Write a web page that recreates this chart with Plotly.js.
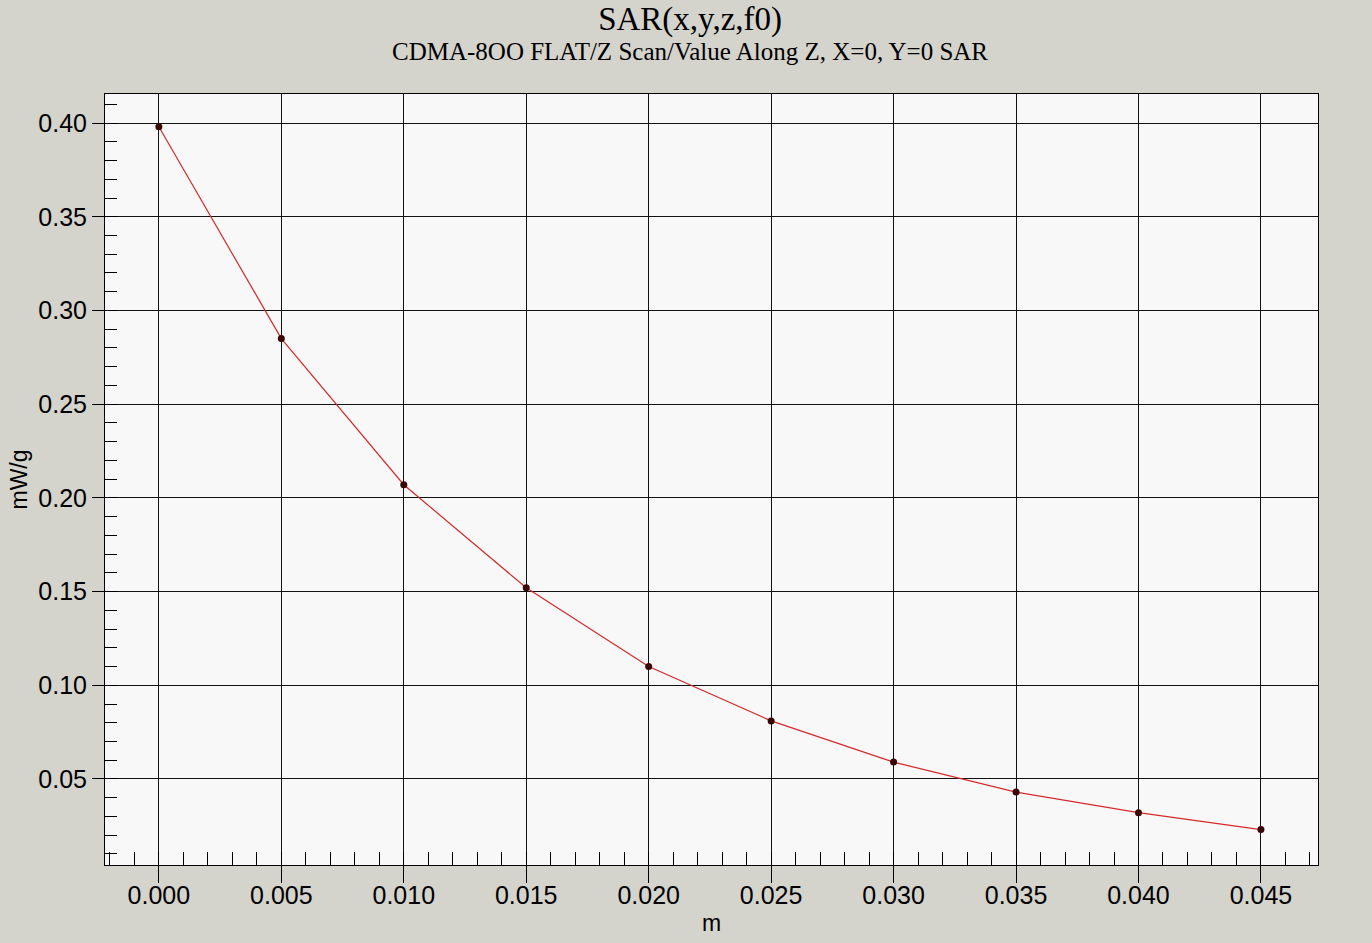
<!DOCTYPE html>
<html>
<head>
<meta charset="utf-8">
<script src="https://cdn.plot.ly/plotly-3.0.1.min.js"></script>
<style>
  html, body { margin: 0; padding: 0; background: #d4d3cc; }
  #chart { width: 1372px; height: 943px; }
</style>
</head>
<body>
<div id="chart"></div>
<script>
// Depth along Z (m) and SAR value (mW/g) at X=0, Y=0
const depth = [0.000, 0.005, 0.010, 0.015, 0.020, 0.025, 0.030, 0.035, 0.040, 0.045];
const sar = [0.398, 0.285, 0.207, 0.152, 0.110, 0.081, 0.059, 0.043, 0.032, 0.023];

const titleText = 'SAR(x,y,z,f0)';
const subtitleText = 'CDMA-8OO FLAT/Z Scan/Value Along Z, X=0, Y=0 SAR';
const xLabel = 'm';
const yLabel = 'mW/g';

const trace = {
  x: depth,
  y: sar,
  type: 'scatter',
  mode: 'lines+markers',
  line: { color: '#d42a2a', width: 1.2 },
  marker: { color: '#3a0505', size: 7 },
  hoverinfo: 'x+y'
};

const serif = 'Liberation Serif, Times New Roman, serif';
const sans = 'Liberation Sans, Arial, sans-serif';

const layout = {
  width: 1372,
  height: 943,
  paper_bgcolor: '#d4d3cc',
  plot_bgcolor: '#f8f8f8',
  margin: { l: 105, r: 54, t: 94, b: 78 },
  showlegend: false,
  title: {
    text: titleText,
    font: { family: serif, size: 33, color: '#000' },
    xref: 'container', x: 0.503,
    yref: 'container', y: 1 - 18 / 943, yanchor: 'middle'
  },
  annotations: [{
    text: subtitleText,
    xref: 'paper', x: 0.482, xanchor: 'center',
    yref: 'paper', y: 1 + 42 / 771, yanchor: 'middle',
    showarrow: false,
    font: { family: serif, size: 25, color: '#000' }
  }],
  xaxis: {
    range: [-0.0022, 0.04733],
    dtick: 0.005, tick0: 0,
    tickformat: '.3f',
    ticks: 'outside', ticklen: 17, tickwidth: 1, tickcolor: '#000',
    ticklabelstandoff: -9,
    showline: true, linecolor: '#000', linewidth: 1, mirror: true,
    showgrid: true, gridcolor: '#111', gridwidth: 1,
    zeroline: false,
    minor: { dtick: 0.001, tick0: 0, ticks: 'inside', ticklen: 13, tickcolor: '#000', tickwidth: 1, showgrid: false },
    tickfont: { family: sans, size: 25, color: '#000' },
    title: { text: xLabel, font: { family: sans, size: 23, color: '#000' }, standoff: 6 }
  },
  yaxis: {
    range: [0.0041, 0.4155],
    dtick: 0.05, tick0: 0,
    tickformat: '.2f',
    ticks: 'outside', ticklen: 12, tickwidth: 1, tickcolor: '#000',
    showline: true, linecolor: '#000', linewidth: 1, mirror: true,
    showgrid: true, gridcolor: '#111', gridwidth: 1,
    zeroline: false,
    minor: { dtick: 0.01, tick0: 0, ticks: 'inside', ticklen: 12, tickcolor: '#000', tickwidth: 1, showgrid: false },
    tickfont: { family: sans, size: 25, color: '#000' },
    title: { text: yLabel, font: { family: sans, size: 23, color: '#000' }, standoff: 4 }
  }
};

Plotly.newPlot('chart', [trace], layout, { displayModeBar: false, staticPlot: true });
</script>
</body>
</html>
